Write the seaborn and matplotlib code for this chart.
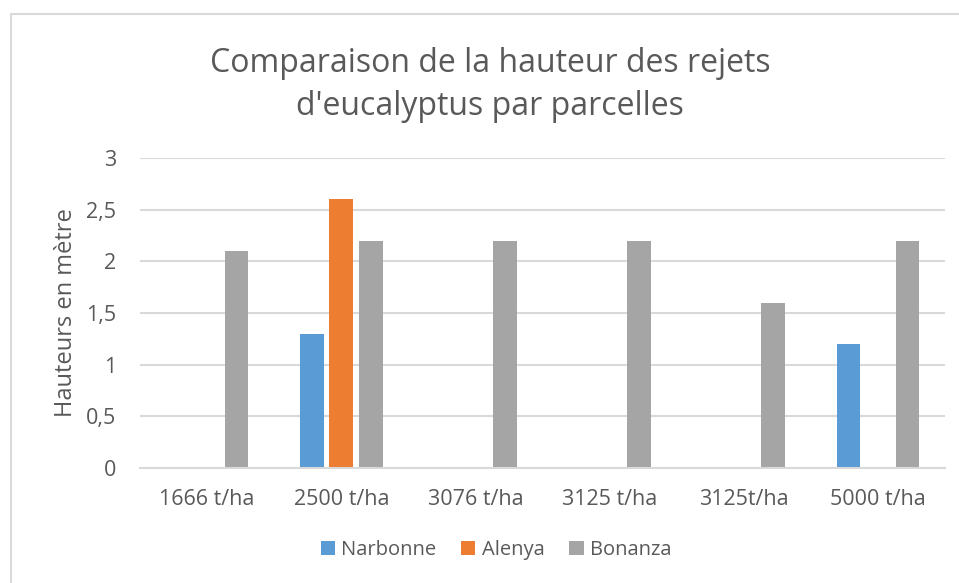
import pandas as pd
import matplotlib.pyplot as plt
import seaborn as sns
from matplotlib.patches import Rectangle

# data
parcelles = ["1666 t/ha", "2500 t/ha", "3076 t/ha", "3125 t/ha", "3125t/ha", "5000 t/ha"]
narbonne = [0, 1.3, 0, 0, 0, 1.2]
alenya = [0, 2.6, 0, 0, 0, 0]
bonanza = [2.1, 2.2, 2.2, 2.2, 1.6, 2.2]
sites = ["Narbonne", "Alenya", "Bonanza"]
colors = ["#5B9BD5", "#ED7D31", "#A5A5A5"]

df = pd.DataFrame({
    "parcelle": parcelles * 3,
    "site": [s for s in sites for _ in parcelles],
    "hauteur": narbonne + alenya + bonanza,
})

sns.set_style("white")
plt.rcParams['font.family'] = ['Open Sans', 'DejaVu Sans']
text_col = "#595959"
grid_col = "#D9D9D9"

fig = plt.figure(figsize=(9.59, 5.83), dpi=100)
ax = fig.add_axes([140 / 959, 1 - 468 / 583, 805 / 959, 310 / 583])

sns.barplot(data=df, x="parcelle", y="hauteur", hue="site", hue_order=sites,
            order=parcelles, palette=colors, width=0.66, gap=0.2,
            linewidth=0, saturation=1, ax=ax, legend=True)

ax.set_ylim(0, 3)
ax.set_yticks([0, 0.5, 1, 1.5, 2, 2.5, 3])
ax.set_yticklabels(["0", "0,5", "1", "1,5", "2", "2,5", "3"])
ax.yaxis.grid(True, color=grid_col, linewidth=1.5)
ax.set_axisbelow(True)
for side in ["top", "right", "left"]:
    ax.spines[side].set_visible(False)
ax.spines["bottom"].set_color(grid_col)
ax.spines["bottom"].set_linewidth(1.5)
ax.tick_params(length=0, labelsize=15.5, colors=text_col)
ax.tick_params(axis="y", pad=17)
ax.tick_params(axis="x", pad=15)
ax.set_xlabel("")
ax.set_ylabel("Hauteurs en mètre", fontsize=17, color=text_col, labelpad=6)

fig.text(490 / 959, 1 - 85 / 583, "Comparaison de la hauteur des rejets\nd'eucalyptus par parcelles",
         ha="center", va="center", fontsize=23, color=text_col, linespacing=1.4)

handles, labels = ax.get_legend_handles_labels()
ax.get_legend().remove()
leg = fig.legend(handles, labels, loc="center", bbox_to_anchor=(496 / 959, 1 - 550 / 583),
                 ncol=3, frameon=False, fontsize=14.5, handlelength=0.7, handleheight=0.7,
                 handletextpad=0.3, columnspacing=1.25)
for t in leg.get_texts():
    t.set_color(text_col)

# chart border like the spreadsheet frame
fig.patches.append(Rectangle((11 / 959, -0.1), 1.2, 1 - 14 / 583 + 0.1, transform=fig.transFigure,
                             fill=False, edgecolor="#D9D9D9", linewidth=1.5))

fig.savefig("out.png", dpi=100)
